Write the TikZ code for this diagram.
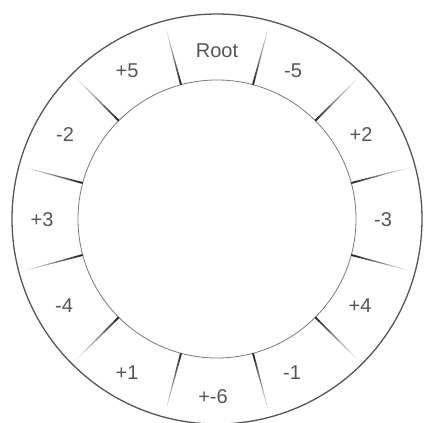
\documentclass[tikz,border=0pt]{standalone}
\usepackage{fontspec}
\setmainfont{Liberation Sans}
\usetikzlibrary{calc}
\definecolor{ringline}{HTML}{555555}
\definecolor{innerline}{HTML}{7A7A7A}
\definecolor{labelgray}{HTML}{555555}
\begin{document}
\begin{tikzpicture}[x=1pt,y=-1pt,
  lab/.style={font=\fontsize{20}{20}\selectfont, text=labelgray, inner sep=0pt}]
\useasboundingbox (0,0) rectangle (424,423);
\coordinate (c) at (217,219);
% outer and inner rings
\draw[ringline, line width=1.3pt] (c) circle[radius=205];
\draw[innerline, line width=0.8pt] (c) circle[radius=139];
% fading spokes
\foreach \k in {0,...,11}{
  \pgfmathsetmacro{\ang}{15+30*\k}
  \foreach \i in {0,...,19}{
    \pgfmathsetmacro{\ra}{139+3*\i}
    \pgfmathsetmacro{\rb}{\ra+3.3}
    \pgfmathsetmacro{\tt}{\i/19}
    \pgfmathsetmacro{\pct}{80*(1-\tt)^0.9+5}
    \pgfmathsetmacro{\lw}{1.9-1.5*\tt}
    \draw[black!\pct, line width=\lw pt] ($(c)+(\ang:\ra)$) -- ($(c)+(\ang:\rb)$);
  }
}
% labels
\node[lab] (root) at (217,51) {Root};
\node[lab] (m5) at (293,71) {-5};
\node[lab] (p2) at (361,135) {+2};
\node[lab] (m3) at (383,220) {-3};
\node[lab] (p4) at (360,306) {+4};
\node[lab] (m1) at (292,373) {-1};
\node[lab] (pm6) at (213,397) {+-6};
\node[lab] (p1) at (127,373) {+1};
\node[lab] (m4) at (64,306) {-4};
\node[lab] (p3) at (42,220) {+3};
\node[lab] (m2) at (65,135) {-2};
\node[lab] (p5) at (127,71) {+5};
\end{tikzpicture}
\end{document}
